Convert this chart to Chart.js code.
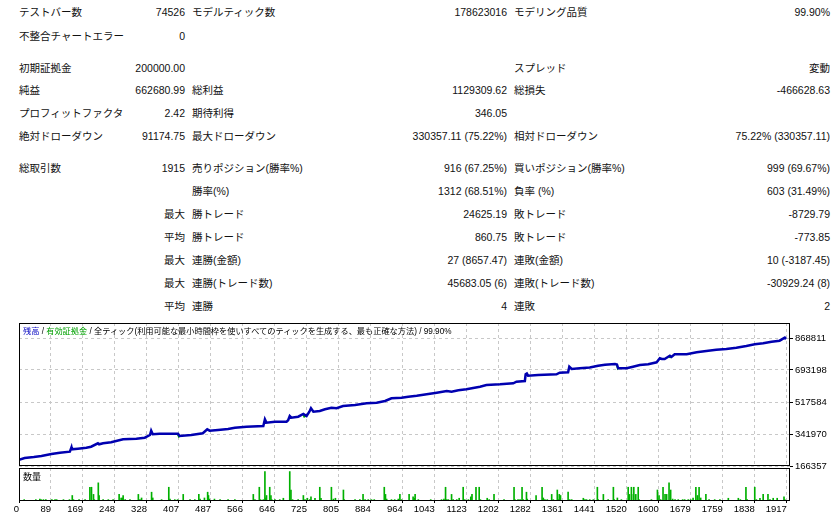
<!DOCTYPE html>
<html>
<head>
<meta charset="utf-8">
<script src="https://cdn.jsdelivr.net/npm/chart.js@4.4.1/dist/chart.umd.min.js"></script>
<style>
  html, body { margin: 0; padding: 0; background: #fff; }
  body { width: 839px; height: 516px; position: relative; overflow: hidden;
    font-family: "Liberation Sans", "Noto Sans CJK JP", sans-serif; color: #111; }
  .cell { position: absolute; font-size: 10.5px; line-height: 14px; white-space: nowrap; }
  .r { text-align: right; }
  canvas { position: absolute; left: 0; }
  #balanceWrap { position: absolute; left: 0; top: 315px; width: 839px; height: 163px; }
  #volumeWrap { position: absolute; left: 0; top: 466px; width: 839px; height: 50px; }
  #head { position: absolute; left: 23px; top: 326px; font-size: 8.2px; line-height: 12px; white-space: nowrap; color: #000; }
  #volTitle { position: absolute; left: 23px; top: 471px; font-size: 9px; line-height: 12px; color: #000; }
</style>
</head>
<body>
<div id="stats"></div>
<div id="balanceWrap"><canvas id="balance" width="839" height="163"></canvas></div>
<div id="volumeWrap"><canvas id="volume" width="839" height="50"></canvas></div>
<div id="head"><span style="color:#0000c0">残高</span> / <span style="color:#00a000">有効証拠金</span> / 全ティック(利用可能な最小時間枠を使いすべてのティックを生成する、最も正確な方法) / 99.90%</div>
<div id="volTitle">数量</div>
<script>
// report table
const rowY = [12, 36, 68, 90, 113, 136, 168, 191, 214, 237, 260, 283, 306];
const labelsA = ['テストバー数', '不整合チャートエラー', '初期証拠金', '純益', 'プロフィットファクタ', '絶対ドローダウン', '総取引数', '', '', '', '', '', ''];
const valuesA = ['74526', '0', '200000.00', '662680.99', '2.42', '91174.75', '1915', '', '最大', '平均', '最大', '最大', '平均'];
const labelsB = ['モデルティック数', '', '', '総利益', '期待利得', '最大ドローダウン', '売りポジション(勝率%)', '勝率(%)', '勝トレード', '勝トレード', '連勝(金額)', '連勝(トレード数)', '連勝'];
const valuesB = ['178623016', '', '', '1129309.62', '346.05', '330357.11 (75.22%)', '916 (67.25%)', '1312 (68.51%)', '24625.19', '860.75', '27 (8657.47)', '45683.05 (6)', '4'];
const labelsC = ['モデリング品質', '', 'スプレッド', '総損失', '', '相対ドローダウン', '買いポジション(勝率%)', '負率 (%)', '敗トレード', '敗トレード', '連敗(金額)', '連敗(トレード数)', '連敗'];
const valuesC = ['99.90%', '', '変動', '-466628.63', '', '75.22% (330357.11)', '999 (69.67%)', '603 (31.49%)', '-8729.79', '-773.85', '10 (-3187.45)', '-30929.24 (8)', '2'];

// balance curve (trade #, balance)
const balTrades = [0, 14, 37, 56, 81, 102, 127, 131, 132, 147, 168, 180, 197, 200, 210, 230, 260, 293, 314, 327,
  330, 334, 351, 397, 401, 430, 459, 470, 476, 497, 522, 539, 568, 610, 614, 618, 639, 668, 672, 676,
  680, 697, 710, 718, 725, 729, 735, 751, 764, 780, 793, 809, 839, 868, 893, 914, 930, 955, 972, 993,
  1022, 1043, 1068, 1080, 1097, 1117, 1134, 1151, 1167, 1201, 1234, 1242, 1263, 1265, 1268, 1271, 1296, 1342, 1350, 1371,
  1374, 1380, 1400, 1425, 1446, 1463, 1488, 1493, 1496, 1517, 1533, 1550, 1571, 1592, 1600, 1605, 1612, 1625, 1629, 1637,
  1667, 1692, 1716, 1741, 1766, 1791, 1816, 1837, 1858, 1879, 1899, 1912, 1915];
const balValues = [200000, 210261, 215749, 221237, 232213, 239347, 244835, 268983, 258006, 261300, 266787, 272275, 290934, 285446, 290934, 296422, 312887, 316180, 321667, 336485,
  360084, 340328, 343621, 343621, 330997, 336485, 345815, 367766, 360084, 363926, 369413, 376548, 382036, 385877, 422647, 403987, 409475, 409475, 417158, 440757,
  431428, 436916, 451733, 440757, 464355, 483014, 464355, 468197, 477527, 486307, 483014, 495637, 501125, 510455, 513748, 523077, 537895, 541187, 546675, 552163,
  561492, 568627, 577957, 574115, 581798, 587286, 594421, 601555, 610885, 614727, 620215, 628996, 632838, 669607, 674000, 661925, 665767, 669607, 678388, 680584,
  711317, 698694, 702536, 706926, 716255, 722292, 726133, 723389, 702536, 702536, 711317, 720645, 724487, 735463, 757415, 753573, 753573, 771684, 764549, 779366,
  779366, 790342, 797477, 804611, 808453, 815587, 824917, 834246, 839734, 848515, 854003, 870467, 862681];

// equity dips that show under the balance line
const eqTrades = [395, 399, 401, null, 708, 712, 716, null, 1492, 1495, 1497, null, 1622, 1626, 1630];
const eqValues = [343621, 326000, 330997, null, 451733, 435269, 440757, null, 723389, 698693, 702536, null, 764549, 762000, 764549];

// volume per trade (lots)
const volTrades = [13, 42, 52, 55, 61, 67, 82, 90, 94, 111, 126, 133, 136, 150, 165, 177, 181, 186, 188, 198,
  200, 210, 223, 235, 250, 255, 258, 260, 265, 277, 298, 302, 306, 331, 334, 356, 374, 377, 389, 396,
  410, 427, 439, 449, 452, 463, 471, 473, 475, 488, 502, 522, 539, 585, 589, 600, 603, 610, 614, 616,
  618, 626, 629, 631, 639, 651, 660, 676, 679, 683, 697, 710, 714, 720, 726, 729, 739, 751, 754, 780,
  785, 790, 810, 812, 839, 851, 859, 864, 872, 880, 887, 912, 915, 918, 930, 938, 947, 951, 955, 974,
  984, 987, 989, 997, 1028, 1055, 1061, 1065, 1068, 1072, 1080, 1084, 1093, 1099, 1109, 1113, 1122, 1128, 1131, 1141,
  1149, 1152, 1169, 1174, 1186, 1211, 1236, 1238, 1246, 1251, 1256, 1259, 1267, 1269, 1291, 1306, 1309, 1313, 1319, 1330,
  1334, 1344, 1346, 1349, 1352, 1371, 1375, 1380, 1409, 1413, 1417, 1425, 1434, 1444, 1446, 1459, 1471, 1484, 1486, 1494,
  1504, 1521, 1524, 1529, 1534, 1535, 1540, 1546, 1548, 1579, 1594, 1598, 1602, 1608, 1613, 1617, 1623, 1627, 1632, 1638,
  1646, 1657, 1662, 1671, 1677, 1683, 1690, 1694, 1698, 1702, 1715, 1723, 1737, 1750, 1771, 1796, 1801, 1815, 1818, 1837,
  1841, 1850, 1858, 1870, 1875, 1883, 1893, 1910, 1912];
const volLots = [0.5, 0.5, 0.7, 0.5, 0.5, 0.5, 0.5, 0.5, 0.5, 0.5, 0.5, 2, 0.5, 0.5, 0.5, 5, 5, 2.4, 0.5, 6.6,
  2, 0.5, 0.5, 0.5, 2.4, 1.1, 1.1, 2, 0.5, 0.5, 2.4, 0.5, 1.1, 3.2, 1.1, 0.5, 5, 0.7, 0.5, 0.5,
  2.4, 0.5, 0.5, 2.4, 0.7, 1.1, 3.2, 2, 0.7, 0.7, 0.5, 0.5, 0.5, 2.4, 0.5, 5, 0.5, 0.5, 10.7, 1.1,
  2, 5, 2, 0.5, 0.5, 0.5, 1, 10.7, 4, 0.5, 0.5, 2, 0.5, 1, 0.5, 1.5, 1, 5, 1, 5,
  0.7, 1, 4, 0.5, 0.5, 0.5, 2.4, 0.5, 0.5, 0.5, 0.5, 5, 2.4, 0.7, 0.5, 0.5, 0.7, 2.4, 0.5, 2.4,
  1.5, 1, 2.4, 0.5, 0.5, 0.5, 0.7, 5, 0.5, 0.5, 2.4, 0.5, 0.5, 1, 5, 0.5, 0.5, 1.5, 2.4, 5,
  5, 0.5, 1, 0.5, 2.4, 0.5, 5, 0.5, 0.5, 0.5, 5, 0.5, 3.2, 0.7, 2, 5, 1.1, 0.5, 0.5, 2.4,
  0.5, 4, 0.5, 2.4, 2, 3.2, 0.5, 0.5, 1, 0.5, 0.5, 0.5, 0.5, 5, 0.5, 2.4, 0.5, 5, 0.5, 1.1,
  0.5, 5, 2.4, 5, 2.4, 5, 2.4, 5, 0.5, 0.5, 4, 2, 0.5, 5, 2.4, 2.4, 6.6, 4, 0.7, 0.5,
  0.5, 0.5, 0.5, 0.5, 0.5, 1.1, 5, 2, 5, 1.1, 2.4, 0.5, 0.5, 0.5, 1, 1, 0.5, 5, 0.5, 5,
  0.5, 1, 2.4, 2.4, 0.5, 1, 1, 1.5, 0.5];

const balanceTicks = [166357, 341970, 517584, 693198, 868811];
const balanceMax = 951130;
const xTickLabels = ['0', '89', '169', '248', '328', '407', '487', '566', '646', '725', '805', '884', '964',
  '1043', '1123', '1202', '1282', '1361', '1441', '1520', '1600', '1679', '1759', '1838', '1917'];
const xMax = 1925;
const xTickStep = 1917 / 24;

// build the stats table
const stats = document.getElementById('stats');
function addCell(text, y, left, right) {
  if (!text) return;
  const d = document.createElement('div');
  d.className = 'cell' + (right != null ? ' r' : '');
  d.textContent = text;
  d.style.top = (y - 7) + 'px';
  if (right != null) d.style.right = (839 - right) + 'px';
  else d.style.left = left + 'px';
  stats.appendChild(d);
}
rowY.forEach((y, i) => {
  addCell(labelsA[i], y, 19);
  addCell(valuesA[i], y, null, 185);
  addCell(labelsB[i], y, 192);
  addCell(valuesB[i], y, null, 507);
  addCell(labelsC[i], y, 514);
  addCell(valuesC[i], y, null, 830);
});

Chart.defaults.font.family = '"Liberation Sans", Arial, sans-serif';
Chart.defaults.font.size = 9.5;
Chart.defaults.color = '#000';

const framePlugin = {
  id: 'frame',
  afterDraw(chart) {
    const { ctx, chartArea: a } = chart;
    ctx.save();
    ctx.strokeStyle = '#000';
    ctx.lineWidth = 1;
    ctx.setLineDash([]);
    ctx.strokeRect(Math.round(a.left) + 0.5, Math.round(a.top) + 0.5,
      Math.round(a.right - a.left) - 1, Math.round(a.bottom - a.top) - 1);
    ctx.restore();
  }
};

const gridDash = {
  color: '#c8c8c8',
  lineWidth: 1,
};

function evenXTicks(scale) {
  scale.ticks = xTickLabels.map((l, i) => ({ value: i * xTickStep }));
}

new Chart(document.getElementById('balance'), {
  type: 'line',
  data: {
    datasets: [{
      label: '残高',
      data: balTrades.map((t, i) => ({ x: t, y: balValues[i] })),
      borderColor: '#0000b0',
      borderWidth: 2.5,
      pointRadius: 0,
      tension: 0,
    }, {
      label: '有効証拠金',
      data: eqTrades.map((t, i) => ({ x: t, y: eqValues[i] })),
      borderColor: '#00a800',
      borderWidth: 1.5,
      pointRadius: 0,
      spanGaps: false,
      tension: 0,
    }]
  },
  options: {
    responsive: false,
    animation: false,
    events: [],
    layout: { padding: { left: 19, right: 0, top: 8, bottom: 12 } },
    plugins: { legend: { display: false }, tooltip: { enabled: false } },
    scales: {
      x: {
        type: 'linear',
        min: 0,
        max: xMax,
        afterBuildTicks: evenXTicks,
        afterFit: (s) => { s.height = 0; },
        ticks: { display: false },
        grid: { ...gridDash, drawTicks: false },
        border: { display: false, dash: [3, 3] },
      },
      y: {
        position: 'right',
        min: balanceTicks[0],
        max: balanceMax,
        afterBuildTicks: (s) => { s.ticks = balanceTicks.map(v => ({ value: v })); },
        afterFit: (s) => { s.width = 49; },
        ticks: { padding: 2, callback: (v) => String(v) },
        grid: { ...gridDash, tickLength: 3, tickColor: '#000' },
        border: { display: false, dash: [3, 3] },
      }
    }
  },
  plugins: [framePlugin]
});

new Chart(document.getElementById('volume'), {
  type: 'bar',
  data: {
    datasets: [{
      label: '数量',
      data: volTrades.map((t, i) => ({ x: t, y: volLots[i] })),
      backgroundColor: '#00b000',
      barThickness: 1,
    }]
  },
  options: {
    responsive: false,
    animation: false,
    events: [],
    layout: { padding: { left: 19, right: 49, top: 2, bottom: 0 } },
    plugins: { legend: { display: false }, tooltip: { enabled: false } },
    scales: {
      x: {
        type: 'linear',
        min: 0,
        max: xMax,
        offset: false,
        afterBuildTicks: evenXTicks,
        afterFit: (s) => { s.height = 15; },
        ticks: { align: 'end', padding: 1, maxRotation: 0, autoSkip: false, callback: (v, i) => xTickLabels[i] },
        grid: { ...gridDash, offset: false, tickLength: 2, tickColor: '#000' },
        border: { display: false, dash: [3, 3] },
      },
      y: {
        display: false,
        min: 0,
        max: 12,
      }
    }
  },
  plugins: [framePlugin]
});
</script>
</body>
</html>
